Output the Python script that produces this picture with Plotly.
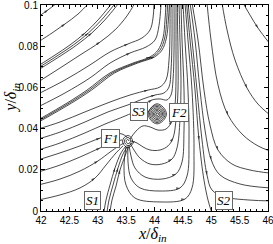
import plotly.graph_objects as go

# ---- streamlines (x/delta_in, y/delta_in) ----
# lines from the left edge that leave through the top directly
top_exit_x = [
    [41.947, 42.123, 42.282],
    [41.947, 42.194, 42.423, 42.652, 42.846],
    [41.947, 42.247, 42.511, 42.775, 43.004, 43.181, 43.251],
    [41.947, 42.307, 42.571, 42.835, 43.064, 43.241, 43.311],
    [41.947, 42.367, 42.631, 42.895, 43.124, 43.301, 43.371],
    [41.947, 42.335, 42.687, 43.040, 43.304, 43.515, 43.656],
]
top_exit_y = [
    [0.0942, 0.0976, 0.1010],
    [0.0820, 0.0864, 0.0908, 0.0956, 0.1010],
    [0.0704, 0.0757, 0.0806, 0.0864, 0.0927, 0.0985, 0.1010],
    [0.0694, 0.0757, 0.0806, 0.0864, 0.0927, 0.0985, 0.1010],
    [0.0684, 0.0757, 0.0806, 0.0864, 0.0927, 0.0985, 0.1010],
    [0.0626, 0.0694, 0.0757, 0.0820, 0.0879, 0.0947, 0.1010],
]
# lines that flatten and turn upward
turning_x = [
    [41.947, 42.423, 42.863, 43.216, 43.533, 43.780, 43.921, 43.974, 43.991],
    [41.947, 42.423, 42.863, 43.216, 43.568, 43.850, 44.009, 44.079, 44.115],
    [41.947, 42.458, 42.811, 43.216, 43.621, 43.921, 44.062, 44.150, 44.185, 44.203],
    [41.947, 42.498, 42.851, 43.256, 43.661, 43.961, 44.097, 44.180, 44.215, 44.233],
    [41.947, 42.538, 42.891, 43.296, 43.701, 44.001, 44.132, 44.210, 44.245, 44.263],
]
turning_y = [
    [0.0568, 0.0636, 0.0709, 0.0772, 0.0811, 0.0840, 0.0879, 0.0937, 0.1010],
    [0.0505, 0.0573, 0.0646, 0.0718, 0.0767, 0.0796, 0.0830, 0.0900, 0.1010],
    [0.0442, 0.0524, 0.0587, 0.0670, 0.0718, 0.0748, 0.0781, 0.0840, 0.0927, 0.1010],
    [0.0436, 0.0524, 0.0587, 0.0670, 0.0718, 0.0748, 0.0781, 0.0840, 0.0927, 0.1010],
    [0.0430, 0.0524, 0.0587, 0.0670, 0.0718, 0.0748, 0.0781, 0.0840, 0.0927, 0.1010],
]
# lines arching over F2
arch_x = [
    [41.947, 42.335, 42.775, 43.216, 43.568, 43.885, 44.097, 44.203, 44.256, 44.273, 44.273],
    [41.947, 42.335, 42.775, 43.181, 43.533, 43.797, 44.009, 44.167, 44.256, 44.291, 44.308, 44.308],
    [41.947, 42.335, 42.775, 43.128, 43.480, 43.709, 43.833, 43.956, 44.097, 44.220, 44.291, 44.326, 44.344, 44.344],
]
arch_y = [
    [0.0398, 0.0432, 0.0481, 0.0529, 0.0563, 0.0587, 0.0602, 0.0636, 0.0733, 0.0879, 0.1010],
    [0.0349, 0.0383, 0.0432, 0.0481, 0.0515, 0.0544, 0.0563, 0.0573, 0.0602, 0.0684, 0.0830, 0.1010],
    [0.0296, 0.0330, 0.0379, 0.0422, 0.0461, 0.0490, 0.0519, 0.0539, 0.0544, 0.0539, 0.0563, 0.0636, 0.0781, 0.1010],
]
# lines running into F1 (from the left and from S1)
inflow_x = [
    [41.947, 42.335, 42.687, 43.040, 43.269, 43.427, 43.515],
    [41.947, 42.335, 42.687, 43.040, 43.286, 43.427],
    [41.947, 42.335, 42.687, 43.004, 43.216, 43.374, 43.463],
    [41.947, 42.335, 42.687, 42.952, 43.145, 43.322, 43.445],
    [43.110, 43.145, 43.216, 43.304, 43.410, 43.498],
    [43.163, 43.198, 43.269, 43.357, 43.445, 43.515],
    [43.216, 43.251, 43.322, 43.392, 43.480, 43.533],
]
inflow_y = [
    [0.0248, 0.0282, 0.0316, 0.0354, 0.0374, 0.0374, 0.0359],
    [0.0189, 0.0223, 0.0262, 0.0306, 0.0335, 0.0345],
    [0.0126, 0.0155, 0.0194, 0.0243, 0.0286, 0.0316, 0.0330],
    [0.0053, 0.0078, 0.0112, 0.0160, 0.0223, 0.0282, 0.0316],
    [-0.0005, 0.0053, 0.0126, 0.0209, 0.0282, 0.0316],
    [-0.0005, 0.0053, 0.0126, 0.0209, 0.0277, 0.0311],
    [-0.0005, 0.0053, 0.0121, 0.0199, 0.0267, 0.0306],
]
# lines leaving F1 to the right and rising along the bundle
outflow_x = [
    [43.568, 43.674, 43.797, 43.921, 44.062, 44.203, 44.308, 44.361, 44.379, 44.379, 44.379, 44.379],
    [43.586, 43.692, 43.797, 43.921, 44.097, 44.238, 44.326, 44.379, 44.414, 44.414, 44.405, 44.405],
    [43.568, 43.639, 43.744, 43.921, 44.132, 44.308, 44.396, 44.449, 44.467, 44.449, 44.432],
    [43.551, 43.586, 43.656, 43.833, 44.132, 44.379, 44.485, 44.520, 44.520, 44.485, 44.467],
    [43.533, 43.533, 43.586, 43.744, 44.097, 44.449, 44.573, 44.608, 44.590, 44.537, 44.502],
    [43.498, 43.463, 43.498, 43.656, 44.097, 44.537, 44.661, 44.696, 44.661, 44.590, 44.537],
]
outflow_y = [
    [0.0349, 0.0388, 0.0413, 0.0408, 0.0393, 0.0398, 0.0437, 0.0515, 0.0636, 0.0781, 0.0927, 0.1010],
    [0.0340, 0.0330, 0.0311, 0.0296, 0.0296, 0.0316, 0.0354, 0.0442, 0.0587, 0.0781, 0.0927, 0.1010],
    [0.0330, 0.0296, 0.0257, 0.0228, 0.0228, 0.0252, 0.0306, 0.0442, 0.0636, 0.0830, 0.1010],
    [0.0320, 0.0267, 0.0209, 0.0165, 0.0155, 0.0180, 0.0238, 0.0393, 0.0587, 0.0830, 0.1010],
    [0.0316, 0.0238, 0.0160, 0.0112, 0.0097, 0.0112, 0.0170, 0.0345, 0.0587, 0.0830, 0.1010],
    [0.0311, 0.0223, 0.0126, 0.0063, 0.0044, 0.0058, 0.0112, 0.0296, 0.0587, 0.0830, 0.1010],
]
# separatrix into S2 and lines deflected to the right
right_x = [
    [44.564, 44.626, 44.714, 44.784, 44.872, 44.943, 45.000],
    [44.590, 44.661, 44.749, 44.837, 44.925, 45.013, 45.242, 45.683, 46.035],
    [44.626, 44.714, 44.802, 44.890, 45.000, 45.154, 45.507, 46.035],
    [44.661, 44.767, 44.872, 44.978, 45.119, 45.366, 45.683, 46.035],
    [44.925, 44.996, 45.119, 45.295, 45.559, 45.824, 46.035],
    [45.189, 45.278, 45.419, 45.630, 45.824, 46.035],
    [45.559, 45.683, 45.824, 46.035],
]
right_y = [
    [0.1010, 0.0830, 0.0587, 0.0345, 0.0150, 0.0053, 0.0000],
    [0.1010, 0.0830, 0.0587, 0.0345, 0.0175, 0.0102, 0.0068, 0.0053, 0.0049],
    [0.1010, 0.0830, 0.0587, 0.0393, 0.0248, 0.0175, 0.0131, 0.0112],
    [0.1010, 0.0830, 0.0587, 0.0417, 0.0296, 0.0228, 0.0199, 0.0184],
    [0.1010, 0.0830, 0.0612, 0.0466, 0.0369, 0.0316, 0.0291],
    [0.1010, 0.0879, 0.0733, 0.0597, 0.0519, 0.0466],
    [0.1010, 0.0951, 0.0888, 0.0811],
]
# focus spirals
f1_spiral_x = [43.551, 43.533, 43.500, 43.533, 43.582, 43.533, 43.468, 43.533,
               43.614, 43.533, 43.436, 43.533, 43.646]
f1_spiral_y = [0.03395, 0.03473, 0.03395, 0.03270, 0.03395, 0.03568, 0.03395, 0.03174,
               0.03395, 0.03665, 0.03395, 0.03077, 0.03395]
f2_spiral_x = [44.053, 44.044, 44.024, 44.044, 44.075, 44.044, 44.001, 44.044, 44.098, 44.044,
               43.979, 44.044, 44.121, 44.044, 43.956, 44.044, 44.143, 44.044, 43.934, 44.044,
               44.166, 44.044, 43.911, 44.044, 44.188, 44.044, 43.889, 44.044, 44.211, 44.044, 43.866]
f2_spiral_y = [0.04705, 0.04748, 0.04705, 0.04630, 0.04705, 0.04815, 0.04705, 0.04560, 0.04705, 0.04880,
               0.04705, 0.04495, 0.04705, 0.04945, 0.04705, 0.04430, 0.04705, 0.05010, 0.04705, 0.04360,
               0.04705, 0.05075, 0.04705, 0.04295, 0.04705, 0.05140, 0.04705, 0.04230, 0.04705, 0.05205, 0.04705]

# critical point labels
label_text = ["F1", "S3", "F2", "S1", "S2"]
label_x = [43.216, 43.718, 44.432, 42.916, 45.225]
label_y = [0.0354, 0.0481, 0.0478, 0.0049, 0.0049]

SERIF = "Liberation Serif, Times New Roman, serif"
LINE = dict(color="#1a1a1a", width=0.8)
fig = go.Figure()

for xs_group, ys_group in [(top_exit_x, top_exit_y), (turning_x, turning_y), (arch_x, arch_y),
                           (inflow_x, inflow_y), (outflow_x, outflow_y), (right_x, right_y)]:
    for xs, ys in zip(xs_group, ys_group):
        mid = len(xs) // 2
        sizes = [4 if i == mid else 0 for i in range(len(xs))]
        fig.add_trace(go.Scatter(x=xs, y=ys, mode="lines+markers",
                                 line=dict(shape="spline", smoothing=1.0, **LINE),
                                 marker=dict(symbol="arrow", angleref="previous", size=sizes,
                                             color="#1a1a1a", line=dict(width=0)),
                                 hoverinfo="skip", showlegend=False))

for xs, ys in [(f1_spiral_x, f1_spiral_y), (f2_spiral_x, f2_spiral_y)]:
    fig.add_trace(go.Scatter(x=xs, y=ys, mode="lines", line=dict(shape="spline", smoothing=1.3, **LINE),
                             hoverinfo="skip", showlegend=False))

for t, x, y in zip(label_text, label_x, label_y):
    fig.add_annotation(x=x, y=y, text="<i>" + t + "</i>", showarrow=False,
                       font=dict(family=SERIF, size=13, color="black"),
                       bgcolor="white", bordercolor="#666", borderwidth=1, borderpad=1)

# axis titles
fig.add_annotation(xref="paper", yref="paper", x=0.49, y=0, yanchor="middle", yshift=-23.5,
                   text="<i>x</i>/<i>δ<sub>in</sub></i>", showarrow=False,
                   font=dict(family=SERIF, size=16, color="black"))
fig.add_annotation(xref="paper", yref="paper", x=0, y=0.55, xanchor="center", xshift=-29,
                   text="<i>y</i>/<i>δ<sub>in</sub></i>", showarrow=False, textangle=-90,
                   font=dict(family=SERIF, size=16, color="black"))

axis_common = dict(showgrid=False, zeroline=False, showline=True, linecolor="black", linewidth=1,
                   mirror="ticks", ticks="inside", ticklen=4, tickcolor="black", automargin=False,
                   ticklabeloverflow="allow",
                   tickfont=dict(family="Liberation Sans, Arial, sans-serif", size=10, color="black"))

fig.update_xaxes(range=[42, 46], dtick=0.5, tick0=42,
                 minor=dict(dtick=0.1, ticks="inside", ticklen=2, tickcolor="black"),
                 **axis_common)
fig.update_yaxes(range=[0, 0.1], dtick=0.02, tick0=0,
                 minor=dict(dtick=0.005, ticks="inside", ticklen=2, tickcolor="black"),
                 **axis_common)

fig.update_layout(width=273, height=244, margin=dict(l=41, r=5, t=5, b=33),
                  paper_bgcolor="white", plot_bgcolor="white")

fig.write_html("out.html", config={"displayModeBar": False},
               post_script="document.body.style.margin='0';document.body.style.padding='0';"
                           "document.body.style.overflow='hidden';")
